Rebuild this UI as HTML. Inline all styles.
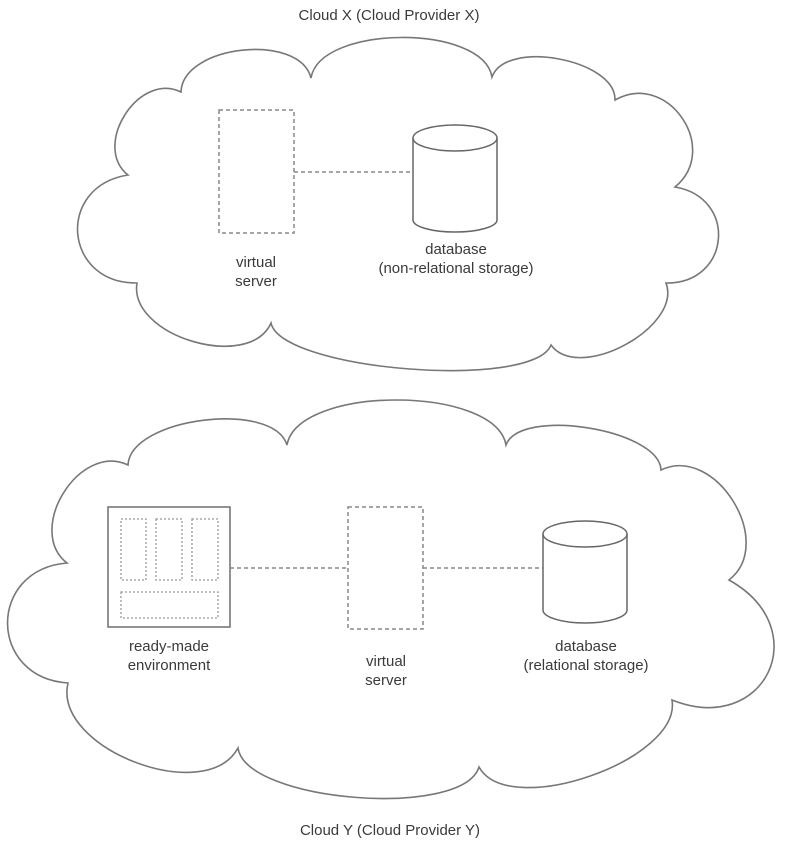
<!DOCTYPE html>
<html><head><meta charset="utf-8"><style>
html,body{margin:0;padding:0;background:#fff;}
svg{display:block;}
text{font-family:"Liberation Sans",Arial,sans-serif;font-size:15px;fill:#3a3a3a;text-anchor:middle;}
</style></head><body>
<svg id="s" width="799" height="858" viewBox="0 0 799 858" xmlns="http://www.w3.org/2000/svg">
<path id="cx" fill="none" stroke="#777" stroke-width="1.6"/>
<path id="cy" fill="none" stroke="#777" stroke-width="1.6"/>
<text x="389" y="20">Cloud X (Cloud Provider X)</text>
<g stroke="#888" stroke-width="1.5" fill="none" stroke-dasharray="4,3">
<rect x="219" y="110" width="75" height="123"/>
<line x1="294" y1="172" x2="413" y2="172"/>
</g>
<g stroke="#666" stroke-width="1.5" fill="none">
<path d="M413,138 L413,220 A42,12 0 0 0 497,220 L497,138"/>
<ellipse cx="455" cy="138" rx="42" ry="13"/>
</g>
<text x="256" y="267">virtual</text>
<text x="256" y="286">server</text>
<text x="456" y="254">database</text>
<text x="456" y="273">(non-relational storage)</text>

<rect x="108" y="507" width="122" height="120" fill="none" stroke="#777" stroke-width="1.6"/>
<g stroke="#999" stroke-width="1.3" fill="none" stroke-dasharray="2,2">
<rect x="121" y="519" width="25" height="61"/>
<rect x="156" y="519" width="26" height="61"/>
<rect x="192" y="519" width="26" height="61"/>
<rect x="121" y="592" width="97" height="26"/>
</g>
<g stroke="#888" stroke-width="1.5" fill="none" stroke-dasharray="4,3">
<line x1="230" y1="568" x2="348" y2="568"/>
<rect x="348" y="507" width="75" height="122"/>
<line x1="423" y1="568" x2="543" y2="568"/>
</g>
<g stroke="#666" stroke-width="1.5" fill="none">
<path d="M543,534 L543,610 A42,13 0 0 0 627,610 L627,534"/>
<ellipse cx="585" cy="534" rx="42" ry="13"/>
</g>
<text x="169" y="651">ready-made</text>
<text x="169" y="670">environment</text>
<text x="386" y="666">virtual</text>
<text x="386" y="685">server</text>
<text x="586" y="651">database</text>
<text x="586" y="670">(relational storage)</text>
<text x="390" y="835">Cloud Y (Cloud Provider Y)</text>
</svg>
<script>
function cloud(pts){
  var d="M"+pts[0][0]+","+pts[0][1];
  for(var i=0;i<pts.length;i++){
    var a=pts[i],b=pts[(i+1)%pts.length],bul=a[2];
    var dx=b[0]-a[0],dy=b[1]-a[1],L=Math.hypot(dx,dy);
    var nx=dy/L,ny=-dx/L,k=bul/0.75;
    var c1=[a[0]+nx*k+dx*0.05,a[1]+ny*k+dy*0.05],c2=[b[0]+nx*k-dx*0.05,b[1]+ny*k-dy*0.05];
    d+=" C"+c1[0].toFixed(1)+","+c1[1].toFixed(1)+" "+c2[0].toFixed(1)+","+c2[1].toFixed(1)+" "+b[0]+","+b[1];
  }
  return d+"Z";
}
document.getElementById("cx").setAttribute("d",cloud([
[128,175,35],[181,92,35],[311,78,40],[492,77,30],[615,100,45],[675,187,48],[666,283,35],[551,345,35],[271,323,40],[137,283,55]
]));
document.getElementById("cy").setAttribute("d",cloud([
[67,563,40],[128,465,35],[287,445,45],[506,445,30],[661,470,45],[729,580,75],[672,700,45],[479,767,40],[238,748,50],[68,683,60]
]));
</script>
</body></html>
